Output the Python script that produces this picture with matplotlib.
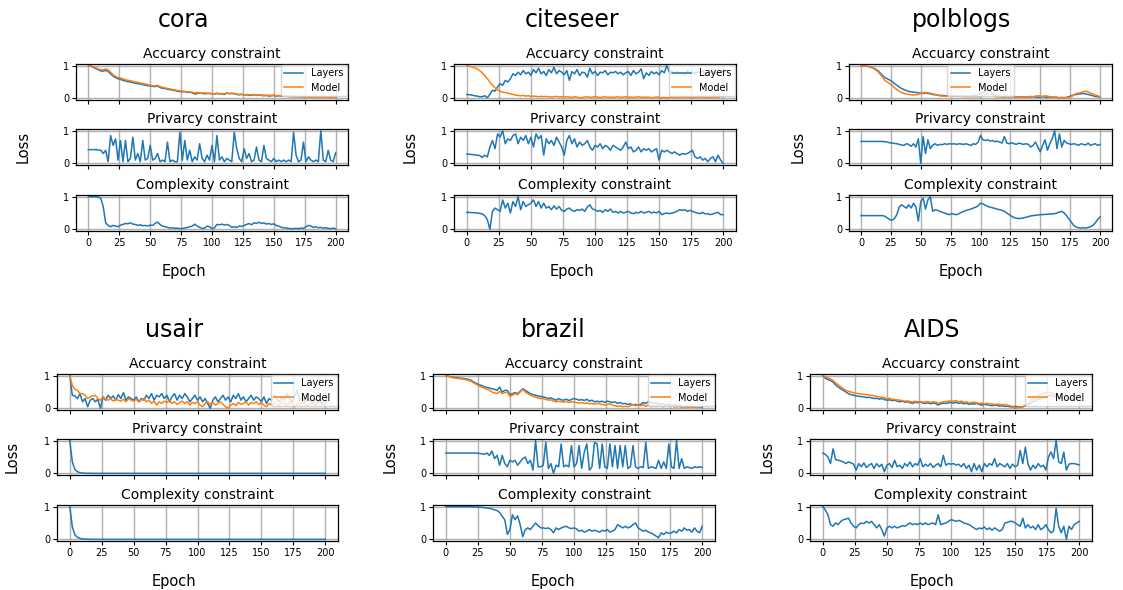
import matplotlib
matplotlib.use("Agg")
import matplotlib.pyplot as plt

epochs = list(range(0, 201, 2))
datasets = ["cora", "citeseer", "polblogs", "usair", "brazil", "AIDS"]
subtitles = ["Accuarcy constraint", "Privarcy constraint", "Complexity constraint"]
xticks = [0, 25, 50, 75, 100, 125, 150, 175, 200]

# ---------------- cora ----------------
cora_acc_layers = [
    1.00, 0.98, 0.95, 0.91, 0.87, 0.84, 0.83, 0.86, 0.82, 0.75,
    0.68, 0.63, 0.60, 0.58, 0.55, 0.53, 0.51, 0.50, 0.48, 0.46,
    0.45, 0.44, 0.42, 0.40, 0.39, 0.38, 0.37, 0.36, 0.38, 0.33,
    0.31, 0.30, 0.28, 0.27, 0.25, 0.24, 0.22, 0.21, 0.20, 0.21,
    0.18, 0.19, 0.17, 0.13, 0.15, 0.16, 0.15, 0.14, 0.15, 0.15,
    0.14, 0.13, 0.15, 0.13, 0.14, 0.12, 0.16, 0.14, 0.15, 0.14,
    0.12, 0.11, 0.12, 0.10, 0.11, 0.09, 0.10, 0.11, 0.09, 0.10,
    0.09, 0.08, 0.09, 0.07, 0.08, 0.09, 0.07, 0.08, 0.07, 0.06,
    0.07, 0.06, 0.05, 0.06, 0.05, 0.06, 0.05, 0.04, 0.05, 0.04,
    0.04, 0.05, 0.03, 0.04, 0.03, 0.04, 0.03, 0.04, 0.03, 0.04,
    0.03]
cora_acc_model = [
    1.00, 0.99, 0.97, 0.94, 0.90, 0.88, 0.87, 0.90, 0.87, 0.80,
    0.72, 0.67, 0.64, 0.62, 0.60, 0.57, 0.55, 0.54, 0.52, 0.50,
    0.49, 0.47, 0.45, 0.44, 0.42, 0.41, 0.39, 0.38, 0.40, 0.36,
    0.34, 0.32, 0.30, 0.29, 0.27, 0.26, 0.24, 0.23, 0.22, 0.21,
    0.20, 0.20, 0.19, 0.17, 0.18, 0.17, 0.16, 0.17, 0.16, 0.15,
    0.15, 0.14, 0.16, 0.14, 0.15, 0.14, 0.17, 0.15, 0.16, 0.15,
    0.13, 0.12, 0.13, 0.11, 0.12, 0.11, 0.11, 0.12, 0.10, 0.11,
    0.10, 0.10, 0.09, 0.10, 0.09, 0.10, 0.08, 0.09, 0.08, 0.07,
    0.07, 0.06, 0.06, 0.05, 0.06, 0.05, 0.04, 0.05, 0.04, 0.04,
    0.03, 0.04, 0.03, 0.02, 0.03, 0.02, 0.03, 0.02, 0.01, 0.02,
    0.02]
cora_priv = [
    0.42, 0.42, 0.42, 0.42, 0.41, 0.40, 0.30, 0.40, 0.05, 0.85,
    0.55, 0.75, 0.10, 0.70, 0.05, 0.70, 0.05, 0.15, 0.80, 0.10,
    0.30, 0.05, 0.70, 0.10, 0.15, 0.55, 0.10, 0.15, 0.30, 0.05,
    0.10, 0.05, 0.65, 0.05, 0.10, 0.05, 0.05, 0.95, 0.10, 0.70,
    0.10, 0.40, 0.05, 0.20, 0.10, 0.60, 0.15, 0.05, 0.25, 0.10,
    0.55, 0.05, 0.85, 0.10, 0.20, 0.05, 0.15, 0.10, 0.05, 0.95,
    0.45, 0.15, 0.05, 0.45, 0.15, 0.30, 0.05, 0.10, 0.50, 0.10,
    0.05, 0.55, 0.15, 0.10, 0.05, 0.15, 0.05, 0.10, 0.05, 0.10,
    0.05, 0.10, 0.05, 0.95, 0.25, 0.05, 0.10, 0.65, 0.05, 0.20,
    0.10, 0.05, 0.10, 0.05, 1.00, 0.10, 0.05, 0.40, 0.10, 0.05,
    0.32]
cora_comp = [
    1.00, 1.00, 1.00, 1.00, 0.99, 0.95, 0.70, 0.20, 0.12, 0.08,
    0.12, 0.10, 0.08, 0.13, 0.15, 0.18, 0.17, 0.20, 0.16, 0.15,
    0.12, 0.14, 0.11, 0.12, 0.10, 0.13, 0.12, 0.18, 0.22, 0.15,
    0.10, 0.08, 0.06, 0.04, 0.05, 0.03, 0.04, 0.02, 0.03, 0.04,
    0.06, 0.08, 0.10, 0.16, 0.10, 0.06, 0.03, 0.04, 0.10, 0.08,
    0.02, 0.05, 0.15, 0.14, 0.16, 0.13, 0.15, 0.12, 0.06, 0.08,
    0.06, 0.10, 0.09, 0.12, 0.15, 0.18, 0.14, 0.20, 0.18, 0.22,
    0.18, 0.20, 0.16, 0.18, 0.15, 0.17, 0.12, 0.10, 0.06, 0.05,
    0.04, 0.03, 0.02, 0.02, 0.03, 0.02, 0.04, 0.03, 0.08, 0.12,
    0.10, 0.06, 0.08, 0.05, 0.06, 0.04, 0.05, 0.03, 0.02, 0.04,
    0.02]

# ---------------- citeseer ----------------
citeseer_acc_layers = [
    0.12, 0.11, 0.10, 0.08, 0.07, 0.05, 0.05, 0.08, 0.02, 0.12,
    0.25, 0.22, 0.35, 0.45, 0.40, 0.55, 0.50, 0.60, 0.75, 0.70,
    0.80, 0.72, 0.85, 0.75, 0.80, 0.70, 0.88, 0.78, 0.92, 0.75,
    0.82, 0.70, 0.88, 0.78, 0.95, 0.75, 0.85, 0.80, 0.72, 0.85,
    0.55, 0.82, 0.75, 0.88, 0.70, 0.80, 0.78, 0.65, 0.92, 0.75,
    0.82, 0.70, 0.80, 0.78, 0.85, 0.72, 0.80, 0.78, 0.82, 0.75,
    0.80, 0.72, 0.78, 0.82, 0.70, 0.85, 0.75, 0.80, 0.90, 0.60,
    0.78, 0.70, 0.82, 0.75, 0.80, 0.72, 0.85, 0.78, 1.00, 0.80,
    0.85, 0.75, 0.82, 0.78, 0.80, 0.72, 0.85, 0.78, 0.80, 0.75,
    0.82, 0.78, 0.85, 0.72, 0.80, 0.78, 0.82, 0.75, 0.80, 0.78,
    0.82]
citeseer_acc_model = [
    1.00, 0.98, 0.96, 0.93, 0.90, 0.85, 0.78, 0.70, 0.60, 0.50,
    0.40, 0.32, 0.26, 0.22, 0.19, 0.18, 0.16, 0.14, 0.12, 0.10,
    0.09, 0.08, 0.09, 0.07, 0.08, 0.06, 0.07, 0.06, 0.05, 0.06,
    0.05, 0.06, 0.05, 0.04, 0.05, 0.06, 0.04, 0.05, 0.04, 0.05,
    0.04, 0.03, 0.05, 0.04, 0.02, 0.03, 0.04, 0.05, 0.03, 0.04,
    0.05, 0.04, 0.03, 0.04, 0.05, 0.03, 0.04, 0.03, 0.04, 0.05,
    0.03, 0.04, 0.05, 0.03, 0.04, 0.03, 0.04, 0.05, 0.03, 0.04,
    0.03, 0.04, 0.02, 0.03, 0.04, 0.03, 0.02, 0.03, 0.02, 0.03,
    0.04, 0.03, 0.02, 0.03, 0.04, 0.03, 0.04, 0.03, 0.02, 0.03,
    0.04, 0.03, 0.04, 0.03, 0.02, 0.03, 0.02, 0.04, 0.03, 0.06,
    0.05]
citeseer_priv = [
    0.28, 0.28, 0.27, 0.26, 0.25, 0.24, 0.18, 0.25, 0.20, 0.50,
    0.70, 0.45, 0.90, 0.80, 1.00, 0.60, 0.75, 0.70, 0.85, 0.90,
    0.60, 0.80, 0.70, 0.85, 0.60, 0.80, 0.50, 0.90, 0.75, 0.85,
    0.25, 0.75, 0.60, 0.70, 0.55, 0.80, 0.65, 0.50, 0.25, 0.70,
    0.85, 0.60, 0.75, 0.50, 0.65, 0.55, 0.60, 0.70, 0.50, 0.40,
    0.55, 0.50, 0.60, 0.45, 0.55, 0.50, 0.40, 0.55, 0.50, 0.45,
    0.40, 0.50, 0.65, 0.45, 0.50, 0.35, 0.40, 0.50, 0.35, 0.45,
    0.40, 0.45, 0.35, 0.40, 0.45, 0.10, 0.40, 0.35, 0.40, 0.35,
    0.30, 0.35, 0.30, 0.25, 0.30, 0.28, 0.30, 0.35, 0.40, 0.20,
    0.15, 0.20, 0.10, 0.15, 0.05, 0.15, 0.20, 0.05, 0.25, 0.10,
    0.00]
citeseer_comp = [
    0.52, 0.52, 0.51, 0.51, 0.50, 0.49, 0.47, 0.42, 0.30, 0.00,
    0.55, 0.65, 0.60, 0.55, 0.90, 0.65, 0.80, 0.50, 0.85, 0.70,
    1.00, 0.60, 0.85, 0.70, 0.75, 0.80, 0.90, 0.70, 0.85, 0.65,
    0.80, 0.65, 0.70, 0.60, 0.72, 0.62, 0.70, 0.58, 0.55, 0.62,
    0.65, 0.58, 0.55, 0.60, 0.58, 0.62, 0.55, 0.68, 0.75, 0.62,
    0.60, 0.55, 0.58, 0.52, 0.60, 0.55, 0.62, 0.52, 0.55, 0.50,
    0.55, 0.50, 0.52, 0.55, 0.50, 0.48, 0.52, 0.50, 0.55, 0.50,
    0.52, 0.55, 0.50, 0.53, 0.50, 0.55, 0.45, 0.48, 0.50, 0.48,
    0.50, 0.52, 0.55, 0.60, 0.58, 0.60, 0.55, 0.58, 0.55, 0.52,
    0.50, 0.48, 0.52, 0.47, 0.48, 0.45, 0.47, 0.50, 0.52, 0.45,
    0.45]

# ---------------- polblogs ----------------
polblogs_acc_layers = [
    1.00, 1.00, 0.99, 0.98, 0.96, 0.93, 0.90, 0.85, 0.78, 0.70,
    0.63, 0.60, 0.56, 0.52, 0.45, 0.40, 0.35, 0.30, 0.27, 0.24,
    0.21, 0.20, 0.19, 0.18, 0.17, 0.16, 0.15, 0.16, 0.15, 0.14,
    0.12, 0.11, 0.10, 0.09, 0.09, 0.08, 0.08, 0.09, 0.08, 0.08,
    0.08, 0.07, 0.08, 0.07, 0.06, 0.07, 0.07, 0.08, 0.10, 0.12,
    0.15, 0.18, 0.22, 0.25, 0.22, 0.16, 0.10, 0.07, 0.06, 0.05,
    0.05, 0.06, 0.05, 0.06, 0.05, 0.04, 0.05, 0.04, 0.05, 0.04,
    0.05, 0.04, 0.05, 0.04, 0.03, 0.04, 0.05, 0.04, 0.03, 0.04,
    0.03, 0.04, 0.03, 0.02, 0.03, 0.02, 0.03, 0.05, 0.08, 0.10,
    0.12, 0.13, 0.14, 0.15, 0.14, 0.12, 0.10, 0.08, 0.06, 0.05,
    0.04]
polblogs_acc_model = [
    1.00, 1.00, 0.99, 0.97, 0.95, 0.92, 0.88, 0.82, 0.74, 0.65,
    0.55, 0.50, 0.45, 0.40, 0.33, 0.27, 0.22, 0.18, 0.15, 0.13,
    0.12, 0.11, 0.10, 0.11, 0.12, 0.15, 0.17, 0.18, 0.17, 0.16,
    0.14, 0.12, 0.10, 0.08, 0.07, 0.07, 0.06, 0.07, 0.06, 0.07,
    0.06, 0.07, 0.06, 0.05, 0.06, 0.05, 0.06, 0.05, 0.06, 0.05,
    0.05, 0.08, 0.12, 0.15, 0.12, 0.10, 0.06, 0.04, 0.05, 0.04,
    0.04, 0.05, 0.04, 0.05, 0.04, 0.05, 0.04, 0.05, 0.04, 0.05,
    0.05, 0.06, 0.05, 0.07, 0.08, 0.07, 0.06, 0.08, 0.07, 0.05,
    0.04, 0.03, 0.03, 0.02, 0.02, 0.02, 0.03, 0.02, 0.05, 0.10,
    0.15, 0.16, 0.18, 0.20, 0.22, 0.20, 0.16, 0.14, 0.10, 0.08,
    0.05]
polblogs_priv = [
    0.67, 0.67, 0.67, 0.67, 0.67, 0.67, 0.67, 0.67, 0.67, 0.67,
    0.66, 0.65, 0.63, 0.62, 0.61, 0.60, 0.58, 0.56, 0.55, 0.60,
    0.58, 0.52, 0.60, 0.50, 0.75, 0.00, 0.82, 0.30, 0.72, 0.45,
    0.55, 0.60, 0.55, 0.58, 0.57, 0.60, 0.58, 0.60, 0.59, 0.60,
    0.58, 0.60, 0.59, 0.58, 0.60, 0.57, 0.55, 0.60, 0.58, 0.65,
    0.85, 0.72, 0.70, 0.72, 0.68, 0.70, 0.66, 0.68, 0.65, 0.62,
    0.82, 0.62, 0.60, 0.63, 0.60, 0.58, 0.62, 0.60, 0.58, 0.60,
    0.58, 0.50, 0.55, 0.65, 0.50, 0.35, 0.55, 0.72, 0.40, 0.60,
    0.75, 1.00, 0.45, 0.90, 0.50, 0.70, 0.62, 0.60, 0.58, 0.60,
    0.58, 0.55, 0.60, 0.58, 0.56, 0.62, 0.55, 0.58, 0.60, 0.55,
    0.58]
polblogs_comp = [
    0.42, 0.42, 0.42, 0.42, 0.42, 0.42, 0.42, 0.42, 0.42, 0.42,
    0.40, 0.35, 0.30, 0.28, 0.33, 0.45, 0.68, 0.75, 0.70, 0.65,
    0.75, 0.65, 0.80, 0.68, 0.25, 0.85, 0.95, 0.62, 0.90, 1.00,
    0.55, 0.60, 0.58, 0.55, 0.52, 0.50, 0.47, 0.45, 0.48, 0.46,
    0.45, 0.48, 0.52, 0.55, 0.58, 0.60, 0.62, 0.65, 0.68, 0.72,
    0.80, 0.78, 0.74, 0.70, 0.68, 0.66, 0.64, 0.62, 0.60, 0.58,
    0.55, 0.50, 0.45, 0.40, 0.36, 0.34, 0.33, 0.34, 0.35, 0.37,
    0.39, 0.41, 0.42, 0.43, 0.44, 0.45, 0.45, 0.46, 0.46, 0.47,
    0.47, 0.48, 0.50, 0.53, 0.55, 0.50, 0.42, 0.32, 0.22, 0.12,
    0.07, 0.05, 0.04, 0.05, 0.04, 0.06, 0.08, 0.12, 0.20, 0.30,
    0.38]

# ---------------- usair ----------------
usair_acc_layers = [
    1.00, 0.40, 0.38, 0.30, 0.45, 0.20, 0.30, 0.05, 0.25, 0.30,
    0.20, 0.28, 0.00, 0.35, 0.25, 0.40, 0.30, 0.38, 0.25, 0.42,
    0.30, 0.48, 0.25, 0.35, 0.30, 0.25, 0.35, 0.20, 0.30, 0.25,
    0.40, 0.30, 0.45, 0.25, 0.40, 0.35, 0.45, 0.30, 0.40, 0.20,
    0.35, 0.45, 0.25, 0.40, 0.30, 0.45, 0.35, 0.20, 0.30, 0.40,
    0.25, 0.35, 0.20, 0.30, 0.15, 0.00, 0.25, 0.35, 0.20, 0.30,
    0.40, 0.25, 0.35, 0.20, 0.40, 0.30, 0.45, 0.25, 0.35, 0.20,
    0.30, 0.40, 0.25, 0.35, 0.30, 0.20, 0.35, 0.15, 0.30, 0.25,
    0.40, 0.30, 0.20, 0.35, 0.25, 0.45, 0.30, 0.20, 0.35, 0.55,
    0.25, 0.35, 0.20, 0.30, 0.25, 0.15, 0.30, 0.20, 0.25, 0.15,
    0.20]
usair_acc_model = [
    1.00, 0.70, 0.58, 0.55, 0.45, 0.45, 0.40, 0.30, 0.35, 0.38,
    0.40, 0.30, 0.25, 0.35, 0.28, 0.25, 0.30, 0.22, 0.28, 0.25,
    0.22, 0.28, 0.20, 0.30, 0.25, 0.22, 0.28, 0.20, 0.25, 0.30,
    0.20, 0.25, 0.15, 0.22, 0.10, 0.20, 0.15, 0.22, 0.18, 0.25,
    0.15, 0.20, 0.12, 0.18, 0.22, 0.15, 0.20, 0.10, 0.18, 0.15,
    0.20, 0.10, 0.05, 0.15, 0.20, 0.12, 0.18, 0.10, 0.15, 0.20,
    0.12, 0.05, 0.00, 0.10, 0.15, 0.08, 0.18, 0.12, 0.15, 0.20,
    0.10, 0.18, 0.15, 0.20, 0.12, 0.18, 0.10, 0.05, 0.15, 0.10,
    0.18, 0.12, 0.08, 0.20, 0.15, 0.10, 0.18, 0.12, 0.05, 0.15,
    0.10, 0.20, 0.15, 0.08, 0.12, 0.18, 0.10, 0.15, 0.20, 0.12,
    0.10]
usair_priv = [
    1.00, 0.35, 0.12, 0.05, 0.02, 0.01, 0.005, 0.003, 0.002, 0.001,
    0.0, 0.0, 0.0, 0.0, 0.0, 0.0, 0.0, 0.0, 0.0, 0.0,
    0.0, 0.0, 0.0, 0.0, 0.0, 0.0, 0.0, 0.0, 0.0, 0.0,
    0.0, 0.0, 0.0, 0.0, 0.0, 0.0, 0.0, 0.0, 0.0, 0.0,
    0.0, 0.0, 0.0, 0.0, 0.0, 0.0, 0.0, 0.0, 0.0, 0.0,
    0.0, 0.0, 0.0, 0.0, 0.0, 0.0, 0.0, 0.0, 0.0, 0.0,
    0.0, 0.0, 0.0, 0.0, 0.0, 0.0, 0.0, 0.0, 0.0, 0.0,
    0.0, 0.0, 0.0, 0.0, 0.0, 0.0, 0.0, 0.0, 0.0, 0.0,
    0.0, 0.0, 0.0, 0.0, 0.0, 0.0, 0.0, 0.0, 0.0, 0.0,
    0.0, 0.0, 0.0, 0.0, 0.0, 0.0, 0.0, 0.0, 0.0, 0.0,
    0.0]
usair_comp = [
    1.00, 0.38, 0.14, 0.06, 0.03, 0.015, 0.008, 0.004, 0.002, 0.001,
    0.0, 0.0, 0.0, 0.0, 0.0, 0.0, 0.0, 0.0, 0.0, 0.0,
    0.0, 0.0, 0.0, 0.0, 0.0, 0.0, 0.0, 0.0, 0.0, 0.0,
    0.0, 0.0, 0.0, 0.0, 0.0, 0.0, 0.0, 0.0, 0.0, 0.0,
    0.0, 0.0, 0.0, 0.0, 0.0, 0.0, 0.0, 0.0, 0.0, 0.0,
    0.0, 0.0, 0.0, 0.0, 0.0, 0.0, 0.0, 0.0, 0.0, 0.0,
    0.0, 0.0, 0.0, 0.0, 0.0, 0.0, 0.0, 0.0, 0.0, 0.0,
    0.0, 0.0, 0.0, 0.0, 0.0, 0.0, 0.0, 0.0, 0.0, 0.0,
    0.0, 0.0, 0.0, 0.0, 0.0, 0.0, 0.0, 0.0, 0.0, 0.0,
    0.0, 0.0, 0.0, 0.0, 0.0, 0.0, 0.0, 0.0, 0.0, 0.0,
    0.0]

# ---------------- brazil ----------------
brazil_acc_layers = [
    1.00, 0.98, 0.96, 0.95, 0.94, 0.93, 0.92, 0.91, 0.90, 0.88,
    0.85, 0.80, 0.76, 0.72, 0.70, 0.66, 0.64, 0.62, 0.60, 0.58,
    0.55, 0.65, 0.50, 0.55, 0.55, 0.42, 0.45, 0.48, 0.45, 0.52,
    0.60, 0.55, 0.50, 0.45, 0.42, 0.40, 0.38, 0.36, 0.35, 0.33,
    0.30, 0.32, 0.28, 0.25, 0.30, 0.26, 0.25, 0.28, 0.24, 0.27,
    0.30, 0.28, 0.25, 0.27, 0.24, 0.28, 0.22, 0.25, 0.20, 0.22,
    0.20, 0.22, 0.18, 0.22, 0.20, 0.18, 0.20, 0.15, 0.18, 0.14,
    0.15, 0.12, 0.14, 0.10, 0.12, 0.10, 0.12, 0.18, 0.15, 0.20,
    0.18, 0.15, 0.17, 0.14, 0.15, 0.12, 0.10, 0.12, 0.09, 0.10,
    0.08, 0.10, 0.07, 0.06, 0.05, 0.06, 0.04, 0.05, 0.03, 0.04,
    0.03]
brazil_acc_model = [
    1.00, 0.98, 0.95, 0.93, 0.92, 0.91, 0.90, 0.89, 0.87, 0.85,
    0.82, 0.77, 0.73, 0.68, 0.65, 0.62, 0.58, 0.55, 0.50, 0.47,
    0.45, 0.52, 0.45, 0.48, 0.50, 0.36, 0.40, 0.45, 0.42, 0.50,
    0.58, 0.50, 0.45, 0.40, 0.37, 0.34, 0.32, 0.30, 0.30, 0.27,
    0.25, 0.26, 0.22, 0.20, 0.22, 0.20, 0.19, 0.21, 0.18, 0.20,
    0.20, 0.18, 0.16, 0.18, 0.15, 0.17, 0.14, 0.15, 0.13, 0.15,
    0.14, 0.12, 0.10, 0.12, 0.14, 0.10, 0.08, 0.06, 0.08, 0.05,
    0.06, 0.05, 0.08, 0.12, 0.08, 0.10, 0.08, 0.12, 0.06, 0.10,
    0.05, 0.08, 0.06, 0.10, 0.07, 0.05, 0.08, 0.06, 0.10, 0.05,
    0.04, 0.06, 0.03, 0.05, 0.02, 0.04, 0.03, 0.05, 0.02, 0.05,
    0.06]
brazil_priv = [
    0.62, 0.62, 0.62, 0.62, 0.62, 0.62, 0.62, 0.62, 0.62, 0.62,
    0.62, 0.62, 0.62, 0.61, 0.60, 0.58, 0.62, 0.55, 0.68, 0.45,
    0.55, 0.25, 0.55, 0.30, 0.20, 0.40, 0.35, 0.40, 0.25, 0.35,
    0.45, 0.50, 0.30, 0.40, 0.10, 1.00, 0.20, 0.20, 0.25, 0.95,
    0.15, 0.30, 0.00, 0.25, 0.20, 0.90, 0.20, 0.25, 0.20, 0.85,
    0.20, 0.30, 0.85, 0.15, 0.65, 0.90, 0.10, 0.20, 0.95, 0.90,
    0.15, 0.90, 0.20, 0.15, 0.90, 0.20, 0.85, 0.15, 0.85, 0.20,
    0.85, 0.15, 0.20, 0.85, 0.20, 0.15, 0.20, 0.18, 0.95, 0.15,
    0.20, 0.18, 0.15, 0.40, 0.15, 0.35, 0.15, 0.90, 0.20, 0.15,
    1.00, 0.15, 0.45, 0.15, 0.20, 0.18, 0.15, 0.20, 0.18, 0.20,
    0.18]
brazil_comp = [
    1.00, 1.00, 1.00, 1.00, 1.00, 1.00, 1.00, 1.00, 1.00, 1.00,
    1.00, 0.99, 0.99, 0.98, 0.98, 0.97, 0.96, 0.95, 0.93, 0.90,
    0.88, 0.82, 0.70, 0.60, 0.15, 0.30, 0.75, 0.60, 0.72, 0.45,
    0.08, 0.30, 0.35, 0.30, 0.40, 0.50, 0.42, 0.35, 0.35, 0.33,
    0.35, 0.30, 0.20, 0.35, 0.30, 0.35, 0.38, 0.40, 0.35, 0.33,
    0.35, 0.32, 0.25, 0.28, 0.22, 0.25, 0.30, 0.25, 0.28, 0.25,
    0.22, 0.28, 0.25, 0.30, 0.22, 0.25, 0.30, 0.45, 0.40, 0.35,
    0.40, 0.35, 0.38, 0.45, 0.50, 0.35, 0.30, 0.25, 0.28, 0.22,
    0.20, 0.15, 0.10, 0.05, 0.20, 0.15, 0.22, 0.18, 0.20, 0.25,
    0.20, 0.30, 0.25, 0.35, 0.28, 0.30, 0.22, 0.35, 0.25, 0.20,
    0.40]

# ---------------- AIDS ----------------
aids_acc_layers = [
    1.00, 0.92, 0.88, 0.85, 0.80, 0.72, 0.65, 0.60, 0.55, 0.50,
    0.45, 0.42, 0.40, 0.38, 0.37, 0.36, 0.35, 0.33, 0.34, 0.32,
    0.30, 0.31, 0.28, 0.30, 0.27, 0.25, 0.26, 0.24, 0.25, 0.22,
    0.20, 0.22, 0.19, 0.20, 0.18, 0.15, 0.19, 0.17, 0.20, 0.16,
    0.15, 0.17, 0.14, 0.16, 0.15, 0.10, 0.14, 0.16, 0.15, 0.17,
    0.18, 0.16, 0.19, 0.15, 0.17, 0.14, 0.16, 0.12, 0.14, 0.13,
    0.15, 0.12, 0.10, 0.12, 0.11, 0.10, 0.08, 0.10, 0.09, 0.07,
    0.08, 0.06, 0.07, 0.05, 0.04, 0.06, 0.05, 0.03, 0.05, 0.08,
    0.10, 0.15, 0.20, 0.25, 0.28, 0.30, 0.32, 0.35, 0.38, 0.40,
    0.38, 0.36, 0.35, 0.33, 0.30, 0.32, 0.28, 0.30, 0.27, 0.28,
    0.28]
aids_acc_model = [
    1.00, 0.97, 0.93, 0.90, 0.85, 0.78, 0.72, 0.66, 0.60, 0.55,
    0.52, 0.50, 0.48, 0.46, 0.45, 0.44, 0.43, 0.42, 0.41, 0.40,
    0.38, 0.37, 0.35, 0.34, 0.33, 0.30, 0.31, 0.28, 0.27, 0.26,
    0.25, 0.24, 0.22, 0.23, 0.21, 0.20, 0.22, 0.20, 0.21, 0.19,
    0.20, 0.21, 0.18, 0.20, 0.19, 0.16, 0.18, 0.20, 0.21, 0.22,
    0.23, 0.22, 0.24, 0.20, 0.22, 0.19, 0.20, 0.17, 0.18, 0.19,
    0.17, 0.15, 0.16, 0.14, 0.15, 0.13, 0.14, 0.12, 0.13, 0.12,
    0.11, 0.12, 0.10, 0.08, 0.06, 0.00, 0.02, 0.05, 0.04, 0.10,
    0.15, 0.22, 0.30, 0.35, 0.40, 0.42, 0.45, 0.48, 0.50, 0.48,
    0.45, 0.42, 0.40, 0.38, 0.36, 0.35, 0.33, 0.32, 0.30, 0.31,
    0.30]
aids_priv = [
    0.62, 0.58, 0.50, 0.30, 0.75, 0.42, 0.40, 0.38, 0.35, 0.30,
    0.35, 0.32, 0.28, 0.10, 0.30, 0.20, 0.32, 0.18, 0.25, 0.30,
    0.15, 0.30, 0.20, 0.28, 0.05, 0.25, 0.30, 0.18, 0.40, 0.20,
    0.25, 0.15, 0.30, 0.22, 0.35, 0.20, 0.30, 0.25, 0.45, 0.20,
    0.28, 0.22, 0.30, 0.18, 0.25, 0.30, 0.20, 0.55, 0.25, 0.30,
    0.28, 0.30, 0.25, 0.28, 0.20, 0.30, 0.15, 0.25, 0.05, 0.30,
    0.10, 0.25, 0.05, 0.30, 0.20, 0.30, 0.25, 0.45, 0.20, 0.30,
    0.25, 0.20, 0.30, 0.15, 0.28, 0.20, 0.25, 0.70, 0.30, 0.80,
    0.30, 0.10, 0.25, 0.15, 0.30, 0.20, 0.25, 0.10, 0.50, 0.65,
    0.45, 1.00, 0.35, 0.30, 0.65, 0.10, 0.28, 0.30, 0.30, 0.28,
    0.26]
aids_comp = [
    1.00, 0.90, 0.75, 0.45, 0.40, 0.50, 0.45, 0.55, 0.60, 0.62,
    0.65, 0.50, 0.40, 0.35, 0.45, 0.50, 0.48, 0.55, 0.50, 0.55,
    0.45, 0.35, 0.45, 0.30, 0.10, 0.35, 0.40, 0.35, 0.40, 0.35,
    0.38, 0.42, 0.40, 0.45, 0.50, 0.45, 0.48, 0.45, 0.50, 0.45,
    0.50, 0.45, 0.48, 0.50, 0.45, 0.75, 0.45, 0.48, 0.50, 0.55,
    0.60, 0.58, 0.55, 0.58, 0.55, 0.50, 0.48, 0.45, 0.40, 0.35,
    0.30, 0.35, 0.32, 0.38, 0.30, 0.35, 0.28, 0.35, 0.30, 0.25,
    0.30, 0.50, 0.52, 0.55, 0.55, 0.50, 0.45, 0.40, 0.65, 0.35,
    0.45, 0.35, 0.40, 0.30, 0.45, 0.30, 0.35, 0.45, 0.30, 0.20,
    0.25, 0.95, 0.40, 0.20, 0.40, 0.00, 0.40, 0.30, 0.45, 0.50,
    0.55]

series = {
    "cora": (cora_acc_layers, cora_acc_model, cora_priv, cora_comp),
    "citeseer": (citeseer_acc_layers, citeseer_acc_model, citeseer_priv, citeseer_comp),
    "polblogs": (polblogs_acc_layers, polblogs_acc_model, polblogs_priv, polblogs_comp),
    "usair": (usair_acc_layers, usair_acc_model, usair_priv, usair_comp),
    "brazil": (brazil_acc_layers, brazil_acc_model, brazil_priv, brazil_comp),
    "AIDS": (aids_acc_layers, aids_acc_model, aids_priv, aids_comp),
}

# ---------------- layout (pixels) ----------------
W, H = 1123, 590
fig = plt.figure(figsize=(W / 100, H / 100), dpi=100)

panel_x = {"cora": (76, 348), "citeseer": (454, 736), "polblogs": (849, 1112),
           "usair": (57, 338), "brazil": (433, 715), "AIDS": (810, 1092)}
panel_row = {"cora": 0, "citeseer": 0, "polblogs": 0, "usair": 1, "brazil": 1, "AIDS": 1}
title_x = {"cora": 184, "citeseer": 572, "polblogs": 961, "usair": 174, "brazil": 553, "AIDS": 932}
loss_x = {"cora": 23, "citeseer": 410, "polblogs": 798, "usair": 12, "brazil": 390, "AIDS": 767}
legend_loc = {"cora": "upper right", "citeseer": "upper right", "polblogs": "upper center",
              "usair": "upper right", "brazil": "upper right", "AIDS": "upper right"}
ax_tops = [64, 129, 195]
ax_h = 36
row_off = 310

blue = "#1f77b4"
orange = "#ff7f0e"


def frac_rect(x0, x1, top, h):
    return [x0 / W, 1 - (top + h) / H, (x1 - x0) / W, h / H]


for name in datasets:
    acc_l, acc_m, priv, comp = series[name]
    x0, x1 = panel_x[name]
    off = row_off * panel_row[name]
    axes = []
    for i in range(3):
        ax = fig.add_axes(frac_rect(x0, x1, ax_tops[i] + off, ax_h))
        axes.append(ax)
    axes[0].plot(epochs[:len(acc_l)], acc_l, color=blue, lw=1.1, label="Layers")
    axes[0].plot(epochs[:len(acc_m)], acc_m, color=orange, lw=1.1, label="Model")
    axes[1].plot(epochs[:len(priv)], priv, color=blue, lw=1.1)
    axes[2].plot(epochs[:len(comp)], comp, color=blue, lw=1.1)
    axes[0].legend(loc=legend_loc[name], fontsize=7, borderaxespad=0.1,
                   handlelength=2.0, labelspacing=0.45, borderpad=0.35)
    for i, ax in enumerate(axes):
        ax.set_title(subtitles[i], fontsize=10, pad=4)
        ax.set_xticks(xticks)
        ax.set_yticks([0, 1])
        ax.set_xlim(-10, 210)
        ax.set_ylim(-0.05, 1.05)
        ax.grid(True, color="#b0b0b0", lw=1.0)
        ax.tick_params(labelsize=7, length=3, width=0.8, pad=2)
        for sp in ax.spines.values():
            sp.set_linewidth(0.9)
        if i < 2:
            ax.tick_params(labelbottom=False)
    fig.text(title_x[name] / W, 1 - (27 + off) / H, name, fontsize=17,
             ha="center", va="baseline")
    fig.text(title_x[name] / W, 1 - (276 + off) / H, "Epoch", fontsize=10.5,
             ha="center", va="baseline")
    fig.text(loss_x[name] / W, 1 - (147 + off) / H, "Loss", fontsize=10.5,
             rotation=90, ha="center", va="center")

fig.savefig("out.png", dpi=100)
